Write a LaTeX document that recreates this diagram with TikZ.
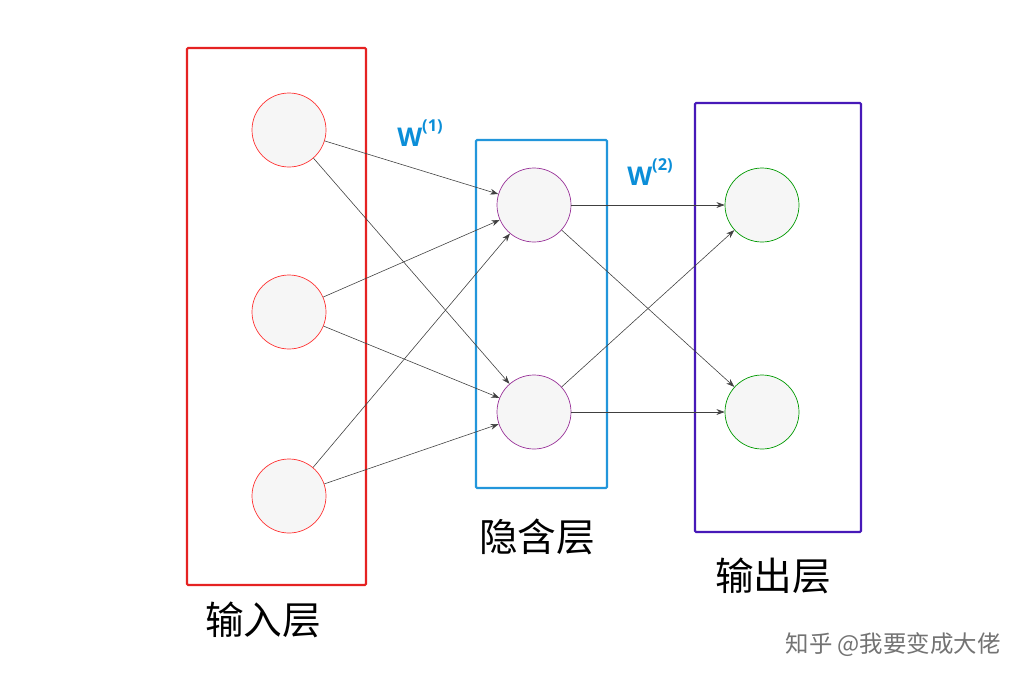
\documentclass[tikz,border=0pt]{standalone}
\usepackage{fontspec}
\newfontfamily\cjk{Noto Sans CJK SC}
\setsansfont{Open Sans}
\usetikzlibrary{arrows.meta}
\begin{document}
\begin{tikzpicture}[x=0.03cm,y=-0.03cm,
  neuron/.style={circle,minimum size=2.22cm,inner sep=0pt,draw=#1,fill=gray!7,line width=0.6pt},
  layerbox/.style={draw=#1,line width=1.8pt,rounded corners=1pt},
  conn/.style={-{Stealth[length=7pt,width=5pt]},draw=black!75,line width=0.5pt},
  lab/.style={font=\cjk\fontsize{33}{33}\selectfont},
  wlab/.style={text=cyan!75!blue,font=\sffamily\bfseries\fontsize{22}{22}\selectfont}]
\useasboundingbox (0,0) rectangle (1034,688);
\node[layerbox={red!80!pink!90!black},minimum width=5.37cm,minimum height=16.11cm,inner sep=0pt] (bin) at (276.5,316.5) {};
\node[layerbox={cyan!75!blue!90},minimum width=3.93cm,minimum height=10.44cm,inner sep=0pt] (bhid) at (541.5,314) {};
\node[layerbox={blue!55!violet!80!gray},minimum width=4.98cm,minimum height=12.87cm,inner sep=0pt] (bout) at (778,317.5) {};
\node[neuron=red!80] (i1) at (289,130) {};
\node[neuron=red!80] (i2) at (289,312) {};
\node[neuron=red!80] (i3) at (289,496) {};
\node[neuron=violet!80] (h1) at (534,205) {};
\node[neuron=violet!80] (h2) at (534,412) {};
\node[neuron=green!60!black] (o1) at (762,205) {};
\node[neuron=green!60!black] (o2) at (762,412) {};
\foreach \a in {i1,i2,i3}{\foreach \b in {h1,h2}{\draw[conn] (\a) -- (\b);}}
\foreach \a in {h1,h2}{\foreach \b in {o1,o2}{\draw[conn] (\a) -- (\b);}}
\node[wlab] (w1) at (420,133) {W\raisebox{1.1ex}{\fontsize{14}{14}\selectfont(1)}};
\node[wlab] (w2) at (650,172) {W\raisebox{1.1ex}{\fontsize{14}{14}\selectfont(2)}};
\node[lab] (l1) at (263,620) {输入层};
\node[lab] (l2) at (537,537) {隐含层};
\node[lab] (l3) at (773,576) {输出层};
\node[font=\cjk\fontsize{20}{20}\selectfont,text=black!55] (wm) at (893,645) {知乎 @我要变成大佬};
\end{tikzpicture}
\end{document}
